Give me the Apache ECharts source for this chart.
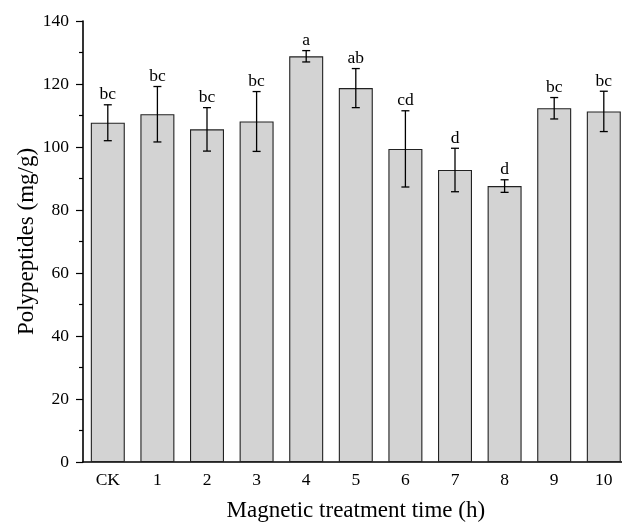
<!DOCTYPE html>
<html>
<head>
<meta charset="utf-8">
<script src="https://cdn.jsdelivr.net/npm/echarts@6/dist/echarts.min.js"></script>
<style>
  html, body { margin: 0; padding: 0; background: #fff; }
  #chart { width: 622px; height: 523px; }
</style>
</head>
<body>
<div id="chart"></div>
<script>
// treatment groups
var categories = ['CK', '1', '2', '3', '4', '5', '6', '7', '8', '9', '10'];
// mean polypeptides (mg/g)
var means = [107.7, 110.4, 105.6, 108.1, 128.8, 118.7, 99.4, 92.7, 87.6, 112.3, 111.3];
// standard deviation
var errors = [5.7, 8.8, 6.9, 9.5, 1.8, 6.2, 12.1, 6.9, 2.0, 3.4, 6.4];
// significance letters
var letters = ['bc', 'bc', 'bc', 'bc', 'a', 'ab', 'cd', 'd', 'd', 'bc', 'bc'];

var font = 'Liberation Serif';

var errData = categories.map(function (c, i) {
  return [i, means[i] - errors[i], means[i] + errors[i], letters[i]];
});

var chart = echarts.init(document.getElementById('chart'));

var option = {
  backgroundColor: '#fff',
  animation: false,
  // plot runs past the right edge of the canvas, as in the original
  grid: { left: 83, width: 545.6, top: 21, bottom: 61, outerBoundsMode: 'none', containLabel: false },
  xAxis: {
    type: 'category',
    data: categories,
    name: 'Magnetic treatment time (h)',
    nameLocation: 'middle',
    nameGap: 37,
    nameMoveOverlap: false,
    nameTextStyle: { fontFamily: font, fontSize: 23, color: '#000' },
    axisLine: { lineStyle: { color: '#000', width: 1.6 } },
    axisTick: { alignWithLabel: true, length: 5, lineStyle: { color: '#000', width: 1.2 } },
    axisLabel: { fontFamily: font, fontSize: 17.5, color: '#000', margin: 9 }
  },
  yAxis: {
    type: 'value',
    min: 0,
    max: 140,
    interval: 20,
    name: 'Polypeptides (mg/g)',
    nameLocation: 'middle',
    nameGap: 45,
    nameMoveOverlap: false,
    nameTextStyle: { fontFamily: font, fontSize: 23, color: '#000' },
    axisLine: { show: true, lineStyle: { color: '#000', width: 1.6 } },
    axisTick: { show: true, length: 7, lineStyle: { color: '#000', width: 1.2 } },
    minorTick: { show: true, splitNumber: 2, length: 4, lineStyle: { color: '#000', width: 1.2 } },
    splitLine: { show: false },
    axisLabel: { fontFamily: font, fontSize: 17.5, color: '#000', margin: 14 }
  },
  series: [
    {
      type: 'bar',
      data: means,
      barWidth: 34,
      itemStyle: { color: '#d3d3d3', borderColor: '#222', borderWidth: 1.1 }
    },
    {
      type: 'custom',
      data: errData,
      z: 10,
      renderItem: function (params, api) {
        var x = api.value(0);
        var lo = api.coord([x, api.value(1)]);
        var hi = api.coord([x, api.value(2)]);
        var cap = 4;
        var st = { stroke: '#000', lineWidth: 1.3 };
        return {
          type: 'group',
          children: [
            { type: 'line', shape: { x1: lo[0], y1: lo[1], x2: hi[0], y2: hi[1] }, style: st },
            { type: 'line', shape: { x1: lo[0] - cap, y1: lo[1], x2: lo[0] + cap, y2: lo[1] }, style: st },
            { type: 'line', shape: { x1: hi[0] - cap, y1: hi[1], x2: hi[0] + cap, y2: hi[1] }, style: st },
            {
              type: 'text',
              x: hi[0],
              y: hi[1] - 1,
              style: {
                text: letters[params.dataIndex],
                font: '17.5px "Liberation Serif"',
                fill: '#000',
                align: 'center',
                verticalAlign: 'bottom'
              }
            }
          ]
        };
      }
    }
  ]
};

chart.setOption(option);
</script>
</body>
</html>
